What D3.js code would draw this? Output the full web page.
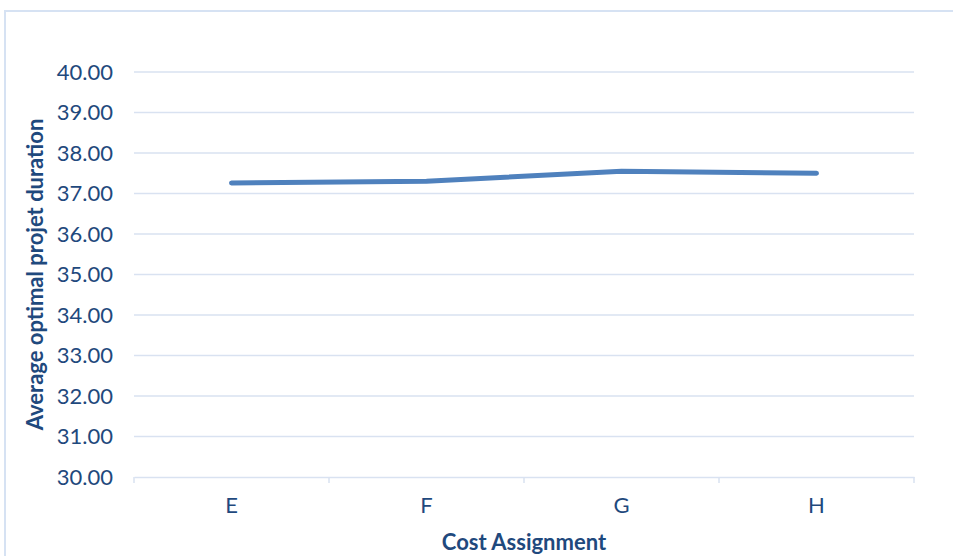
<!DOCTYPE html>
<html><head><meta charset="utf-8">
<script src="https://cdn.jsdelivr.net/npm/d3@7"></script>
<style>body{margin:0;background:#fff}svg{display:block}text{font-family:Lato,"Open Sans",sans-serif}</style>
</head><body>
<script>
const categories = ["E","F","G","H"];
const values = [37.26, 37.30, 37.55, 37.50];
const yTicks = [30,31,32,33,34,35,36,37,38,39,40];
const xTitle = "Cost Assignment";
const yTitle = "Average optimal projet duration";

(function(){
const W=953,H=556;
const svg=d3.select("body").append("svg").attr("width",W).attr("height",H);
svg.append("rect").attr("x",5).attr("y",11).attr("width",W+10).attr("height",H+10)
  .attr("fill","none").attr("stroke","#d6e2f3").attr("stroke-width",2);

const pL=134,pR=914,pT=72,pB=477;
const x=d3.scaleBand().domain(categories).range([pL,pR]);
const y=d3.scaleLinear().domain([30,40]).range([pB,pT]);
const grid="#d9e2f1", txt="#1f497d";
const fs="22px";

const g=svg.append("g");
g.selectAll("line.grid").data(yTicks.slice(1)).join("line").attr("class","grid")
  .attr("x1",pL).attr("x2",pR).attr("y1",d=>y(d)).attr("y2",d=>y(d))
  .attr("stroke",grid).attr("stroke-width",1.5);

const ya=svg.append("g").attr("transform",`translate(${pL},0)`)
  .call(d3.axisLeft(y).tickValues(yTicks).tickFormat(d3.format(".2f")).tickSize(0).tickPadding(21));
ya.select(".domain").remove();
ya.selectAll("text").attr("fill",txt).style("font-size",fs).style("font-family","Lato,'Open Sans',sans-serif");

const xa=svg.append("g").attr("transform",`translate(0,${pB})`)
  .call(d3.axisBottom(x).tickSize(0).tickPadding(20));
xa.select(".domain").attr("stroke",grid).attr("stroke-width",1.5);
xa.selectAll("text").attr("fill",txt).style("font-size",fs).style("font-family","Lato,'Open Sans',sans-serif");
const edges=categories.map(c=>x(c)).concat([pR]);
xa.selectAll("line.edge").data(edges).join("line").attr("class","edge")
  .attr("x1",d=>d).attr("x2",d=>d).attr("y1",0).attr("y2",6)
  .attr("stroke",grid).attr("stroke-width",1.5);

const line=d3.line().x((d,i)=>x(categories[i])+x.bandwidth()/2).y(d=>y(d));
svg.append("path").datum(values).attr("d",line).attr("fill","none")
  .attr("stroke","#4f81bd").attr("stroke-width",5).attr("stroke-linecap","round").attr("stroke-linejoin","round");

svg.append("text").attr("x",(pL+pR)/2).attr("y",550).attr("text-anchor","middle")
  .attr("fill",txt).style("font-size","22px").style("font-weight","bold").text(xTitle);
svg.append("text").attr("transform",`translate(43,${(pT+pB)/2}) rotate(-90)`).attr("text-anchor","middle")
  .attr("fill",txt).style("font-size","22px").style("font-weight","bold").text(yTitle);
})();
</script>
</body></html>
